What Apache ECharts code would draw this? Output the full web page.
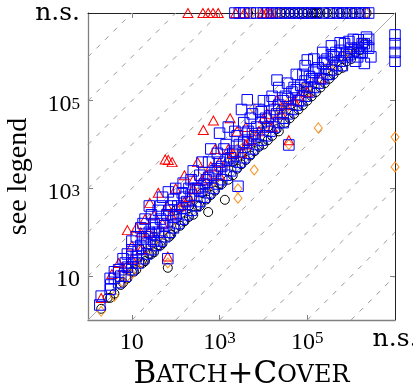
<!DOCTYPE html>
<html><head><meta charset="utf-8">
<script src="https://cdn.jsdelivr.net/npm/echarts@6/dist/echarts.min.js"></script>
<style>html,body{margin:0;padding:0;background:#fff}#c{width:413px;height:388px}</style>
</head><body><div id="c"></div>
<script>
// "n.s." (not solved) is plotted at 1e7
const NS = 1e7;
const tickValues = [10, 1e3, 1e5, NS];
const diagOffsets = [-6, -5, -4, -3, -2, -1, 1, 2, 3, 4, 5, 6];

// black circles  [Batch+Cover, other]
const circles = [
  [2,1.8],[4,4],[5.6,6.3],[7.9,8.9],[10,12.6],[12.6,14],[16,20],[20,22],[25,32],[32,35],
  [66,15.5],[40,50],[50,56],[79,89],[100,126],[158,178],[251,251],[316,398],[550,290],[500,560],
  [790,890],[1320,550],[1000,1260],[1580,1580],[2510,2820],[3980,4470],[6310,7080],[1e4,1e4],
  [15800,15800],[22400,20000],[31600,31600],[50100,50100],[79400,79400],[1.26e5,1.26e5],[2e5,2e5],
  [3.16e5,3.16e5],[5e5,5e5],[7.9e5,7.9e5],[1.26e6,1.26e6],[2e6,2e6],[16,40],[200,400],[3160,6310],
  [40000,79400],[2.5e5,5e5],[400,790],[2000,4000],[12600,25100],[1e5,2e5],[6.3e5,1e6],[2.8,3.2],[7.9,15.8],
  [3.2,3.2],[6.3,7.1],[11.2,12.6],[17.8,20],[28,32],[45,50],[71,79],[126,141],[200,224],[355,398],
  [631,708],[1120,1260],[2000,2000],[3160,3550],[5010,5620],[7940,8910],[12600,12600],[20000,22400],
  [39800,39800],[63100,63100],[1e5,1e5],[1.58e5,1.58e5],[2.51e5,2.51e5],[3.98e5,3.98e5],[6.31e5,5.62e5],
  [1e6,8.91e5],[1.58e6,1.41e6],[32,79],[100,316],[500,1260],[1580,3980],[6310,15800],[25100,63100],
  [79400,1.58e5],[3.98e5,7.94e5],
  [4470,NS],[2e4,NS],[2.51e4,NS],[3.16e4,NS],[3.98e4,NS],[5.01e4,NS],[6.31e4,NS],[7.94e4,NS],[1e5,NS],
  [1.26e5,NS],[1.41e5,NS],[1.58e5,NS],[1.78e5,NS],[2e5,NS],[2.82e5,NS],[3.98e5,NS],[5.62e5,NS],
  [7.94e5,NS],[1.12e6,NS],[1.58e6,NS],[2.24e6,NS]
];

// orange diamonds
const diamonds = [
  [2,1.58],[4,3.5],[6.3,7.1],[10,11.2],[16,20],[20,79],[25,40],[40,79],[66,20],[79,158],
  [126,316],[200,500],[316,794],[398,2510],[500,1000],[794,1580],[1260,3160],[2000,5010],
  [2630,980],[2630,600],[3160,7940],[6170,2630],[5010,12600],[5890,67600],[7940,20000],
  [12600,31600],[20000,39800],[38000,10000],[31600,63100],[50100,1e5],[1e5,1.58e5],[1.78e5,24000],
  [2e5,3.16e5],[3.98e5,6.31e5],[7.94e5,1.26e6],[1.58e6,2e6],[NS,14800],[NS,3090],
  [7.9,10],[12.6,20],[32,63],[50,100],[100,251],[158,398],[251,631],[631,1260],[1000,2510],
  [1580,3980],[2510,7940],[3980,1e4],[6310,15800],[1e4,25100],[15800,50100],[25100,63100],
  [39800,1e5],[79400,2e5],[1.26e5,2.51e5],[3.16e5,6.31e5],[6.31e5,1e6],[1e6,1.58e6],
  [4270,NS],[5500,NS],[8910,NS],[12600,NS],[15800,NS],[21400,NS],[2.19e6,NS]
];

// red triangles
const triangles = [
  [2,3.16],[3.5,11.2],[5,20],[7.9,112],[10,50],[12.6,126],[16,100],[20,200],[25.7,468],[32,251],
  [40,794],[57.5,4570],[67.6,4470],[83,3980],[66,28],[100,1000],[126,398],[158,2000],[251,1000],
  [316,3980],[427,21400],[398,1580],[631,3160],[724,35500],[794,7940],[1000,2000],[1580,7940],
  [1740,39800],[2510,20000],[3160,6310],[3980,25100],[5010,12600],[1e4,39800],[15800,25100],
  [20400,1.05e5],[31600,79400],[38000,12600],[63100,1.26e5],[1e5,1.58e5],[2e5,3.16e5],[79,251],[200,631],
  [6.3,16],[10,25],[16,40],[25,100],[50,158],[63,398],[158,501],[251,1580],[501,2000],[1000,3980],
  [2000,6310],[3980,1e4],[7940,20000],[12600,50100],[25100,50100],[50100,1e5],
  [190,NS],[417,NS],[550,NS],[708,NS],[933,NS],[2340,NS],[3630,NS],[9330,NS],[11500,NS],[14100,NS]
];

// blue squares
const squares = [
  [1.86,2.2],[2,3.5],[3.3,6.3],[4,8.9],[4,12.6],[5.6,10],[6.3,25],[7.9,32],[7.9,16],[10,40],
  [10,20],[12.6,79],[12.6,28],[16,50],[16,126],[20,79],[20,200],[25,100],[25,398],[32,158],
  [32,63],[40,316],[40,100],[66,25],[50,631],[50,158],[68,832],[63,251],[79,398],[100,1000],
  [100,251],[148,1320],[158,631],[200,1000],[251,2510],[316,1000],[398,3980],[500,1580],[631,7940],
  [794,2510],[1000,18200],[1000,3980],[1260,7940],[1580,25100],[2000,6310],[2510,15800],[2630,1120],
  [3160,63100],[4270,1.05e5],[4470,20000],[5010,39800],[6310,15800],[7940,63100],[1e4,1e5],
  [12600,25100],[15800,1.26e5],[20400,2.95e5],[20000,50100],[28200,31600],[31600,1.26e5],[38000,9800],
  [50100,2e5],[63100,1e5],[79400,3.98e5],[1e5,8.5e5],[1e5,2e5],[1.26e5,3.16e5],[1.58e5,5e5],
  [2e5,3.16e5],[2.51e5,7.94e5],[3.16e5,3.98e5],[3.98e5,1e6],[5.62e5,2.09e6],[6.31e5,6.31e5],
  [7.94e5,1.26e6],[1e6,1.58e6],[1.26e6,7.94e5],[1.45e6,2.45e6],[1.58e6,1.26e6],[2e6,2e6],
  [2.51e6,1.58e6],[2.82e6,1e6],[2e6,7.08e5],[2.51e6,2.51e6],
  [3.2,5],[3.2,8.9],[5,7.1],[5,14],[7.1,10],[7.1,20],[10,14],[10,28],[10,63],[14,20],[14,40],
  [18,25],[18,71],[18,158],[22,32],[22,56],[28,40],[28,89],[28,251],[35,50],[35,126],
  [45,63],[45,200],[45,398],[56,79],[56,141],[71,100],[71,316],[89,126],[89,224],[89,562],
  [112,158],[112,398],[141,200],[141,355],[141,794],[178,251],[178,501],[224,316],[224,708],[224,1580],
  [282,398],[282,1000],[355,501],[355,891],[355,2000],[447,631],[447,1260],[562,794],[562,1780],[562,3980],
  [708,1000],[708,2000],[891,1260],[891,2820],[891,6310],[1120,1580],[1120,3160],[1410,2000],[1410,4470],
  [1410,1e4],[1780,2510],[1780,5010],[2240,3160],[2240,7080],[2240,20000],[2820,3980],[2820,1e4],
  [3550,5010],[3550,11200],[3550,31600],[4470,6310],[4470,12600],[5620,7940],[5620,17800],[5620,50100],
  [7080,1e4],[7080,25100],[8910,12600],[8910,31600],[8910,56200],[11200,15800],[11200,39800],
  [14100,20000],[14100,44700],[14100,1e5],[17800,25100],[17800,63100],[22400,31600],[22400,79400],
  [22400,2e5],[28200,39800],[28200,1e5],[35500,50100],[35500,1.12e5],[35500,2.51e5],[44700,63100],
  [44700,1.58e5],[56200,79400],[56200,1.78e5],[56200,3.98e5],[70800,1e5],[70800,2.24e5],[89100,1.26e5],
  [89100,2.82e5],[89100,6.31e5],[1.12e5,1.58e5],[1.12e5,3.55e5],[1.41e5,2e5],[1.41e5,4.47e5],
  [1.41e5,8.91e5],[1.78e5,2.51e5],[1.78e5,5.62e5],[2.24e5,3.16e5],[2.24e5,7.08e5],[2.24e5,1.26e6],
  [2.82e5,3.98e5],[2.82e5,8.91e5],[3.55e5,5.01e5],[3.55e5,1.12e6],[3.55e5,1.78e6],[4.47e5,6.31e5],
  [4.47e5,1.26e6],[5.62e5,7.94e5],[5.62e5,1.41e6],[7.08e5,1e6],[7.08e5,2e6],[8.91e5,1.12e6],
  [8.91e5,2.24e6],[1.12e6,1.26e6],[1.12e6,2.51e6],[1.41e6,1.58e6],[1.41e6,1e6],[1.78e6,2e6],
  [1.78e6,1.26e6],[2.24e6,2.82e6],[2.24e6,1.78e6],
  [NS,3.16e6],[NS,2e6],[NS,1.26e6],[NS,7.94e5],
  [2240,NS],[2820,NS],[3550,NS],[5010,NS],[7080,NS],[1e4,NS],[12600,NS],[15800,NS],[2e4,NS],
  [25100,NS],[31600,NS],[39800,NS],[50100,NS],[63100,NS],[79400,NS],[1e5,NS],[1.26e5,NS],
  [1.58e5,NS],[2.24e5,NS],[3.16e5,NS],[3.98e5,NS],[5.01e5,NS],[6.31e5,NS],[7.94e5,NS],[1e6,NS],
  [1.26e6,NS],[1.58e6,NS],[2e6,NS],[2.51e6,NS]
];

const F = '"Liberation Serif", "DejaVu Serif", serif';
const F2 = '"DejaVu Serif", serif';
const LO = 1, HI = NS;

function fmt(v) {
  if (v >= NS * 0.999) return '{ns|n.s.}';
  const e = Math.round(Math.log10(v));
  if (e === 1) return '{b|10}';
  return '{b|10}{s|' + e + '}';
}

const series = [];
// reference diagonals y = x * 10^k
diagOffsets.forEach(k => {
  const f = Math.pow(10, k);
  const p1 = k > 0 ? [LO, LO * f] : [LO / f, LO];
  const p2 = k > 0 ? [HI / f, HI] : [HI, HI * f];
  series.push({ type: 'line', data: [p1, p2], symbol: 'none', silent: true, z: 1,
    lineStyle: { color: '#999999', width: 1, type: [5, 7] } });
});
series.push({ type: 'line', data: [[LO, LO], [HI, HI]], symbol: 'none', silent: true, z: 1,
  lineStyle: { color: '#aaaaaa', width: 1 } });

function scat(data, symbol, size, color) {
  return { type: 'scatter', data, symbol, symbolSize: size, clip: false, z: 3,
    itemStyle: { color: 'rgba(0,0,0,0)', borderColor: color, borderWidth: 1, opacity: 1 } };
}
series.push(scat(circles, 'circle', 9, '#000000'));
series.push(scat(diamonds, 'diamond', [8, 10], '#f7931e'));
series.push(scat(triangles, 'triangle', [10, 9], '#ff0000'));
series.push(scat(squares, 'rect', 10.5, '#0000ff'));

const tickStyle = { show: true, inside: true, length: 5, customValues: [10, 1e3, 1e5],
  lineStyle: { color: '#808080', width: 1 } };

const option = {
  animation: false,
  backgroundColor: '#fff',
  grid: { left: 88, top: 13, right: 18, bottom: 68, containLabel: false, outerBoundsMode: 'none' },
  xAxis: [{
    type: 'log', logBase: 10, min: LO, max: HI, position: 'bottom',
    axisLine: { lineStyle: { color: '#808080', width: 1.3 } },
    axisTick: tickStyle,
    splitLine: { show: false }, minorTick: { show: false },
    axisLabel: { customValues: tickValues, margin: 10, formatter: fmt, showMinLabel: true, showMaxLabel: true,
      hideOverlap: false,
      rich: {
        b: { fontSize: 24, fontFamily: F, color: '#000', lineHeight: 26 },
        s: { fontSize: 17, fontFamily: F, color: '#000', verticalAlign: 'top', lineHeight: 18 },
        ns: { fontSize: 25, fontFamily: F2, color: '#000', lineHeight: 18 } } },
    name: '{B|B}{sc|ATCH}{B|+C}{sc|OVER}', nameLocation: 'middle', nameGap: 36,
    nameTextStyle: { rich: {
      B: { fontSize: 31, fontFamily: F2, color: '#000' },
      sc: { fontSize: 24, fontFamily: F2, color: '#000' } } }
  }, {
    type: 'log', logBase: 10, min: LO, max: HI, position: 'top',
    axisLine: { lineStyle: { color: '#222', width: 1 } },
    axisTick: tickStyle, axisLabel: { show: false }, splitLine: { show: false }
  }],
  yAxis: [{
    type: 'log', logBase: 10, min: LO, max: HI, position: 'left',
    axisLine: { lineStyle: { color: '#808080', width: 1.3 } },
    axisTick: tickStyle,
    splitLine: { show: false }, minorTick: { show: false },
    axisLabel: { customValues: tickValues, margin: 8, formatter: fmt, showMinLabel: true, showMaxLabel: true,
      hideOverlap: false,
      rich: {
        b: { fontSize: 24, fontFamily: F, color: '#000', lineHeight: 26, padding: [8, 0, 0, 0] },
        s: { fontSize: 17, fontFamily: F, color: '#000', verticalAlign: 'top', lineHeight: 18, padding: [8, 0, 0, 0] },
        ns: { fontSize: 25, fontFamily: F2, color: '#000' } } },
    name: 'see legend', nameLocation: 'middle', nameGap: 55, nameMoveOverlap: false,
    nameTextStyle: { fontSize: 28, fontFamily: F, color: '#000', padding: [0, 20, 0, 0] }
  }, {
    type: 'log', logBase: 10, min: LO, max: HI, position: 'right',
    axisLine: { lineStyle: { color: '#222', width: 1 } },
    axisTick: tickStyle, axisLabel: { show: false }, splitLine: { show: false }
  }],
  series
};
const chart = echarts.init(document.getElementById('c'));
chart.setOption(option);
</script>
</body></html>
